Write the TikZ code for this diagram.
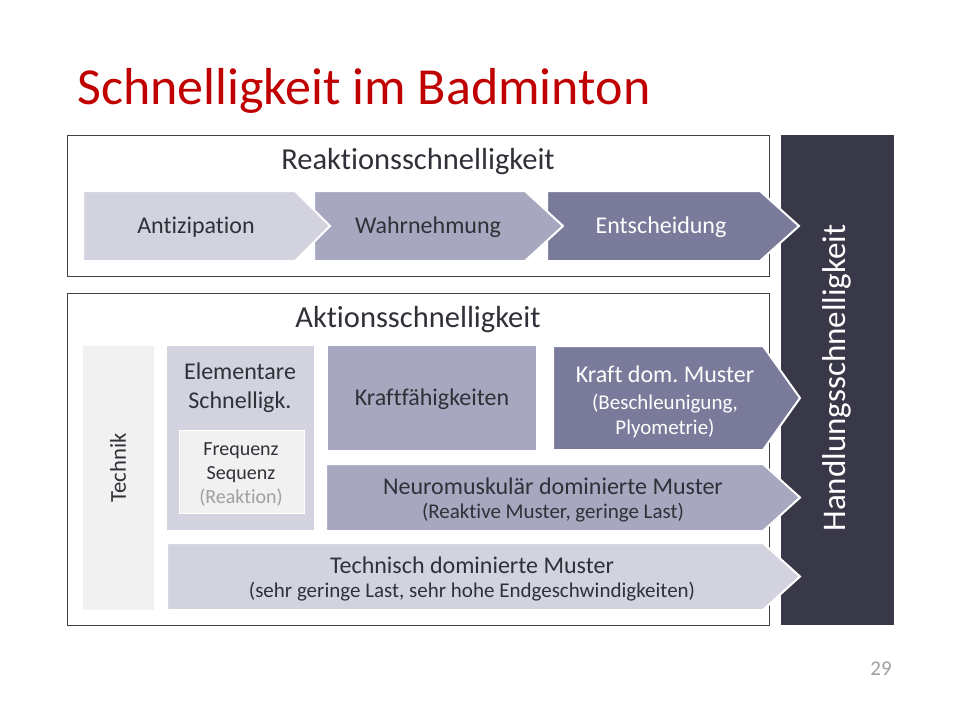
\documentclass[tikz,border=0pt]{standalone}
\usepackage{fontspec}
\setmainfont{Carlito}[Ligatures=NoCommon]
\frenchspacing
\definecolor{titlered}{HTML}{C00000}
\definecolor{ink}{HTML}{303038}
\definecolor{frame}{HTML}{404040}
\definecolor{lilaA}{HTML}{D3D3DF}
\definecolor{lilaB}{HTML}{A7A7BF}
\definecolor{lilaC}{HTML}{7A7A9B}
\definecolor{night}{HTML}{383849}
\definecolor{paper}{HTML}{F1F1F1}
\definecolor{note}{HTML}{A0A0A0}
\newcommand\fsz[1]{\fontsize{#1}{1.2\dimexpr#1pt\relax}\selectfont}
% home-plate arrow: fill, left x, top y, slope start x, bottom y, tip x
\newcommand\homeplate[6]{%
  \filldraw[fill=#1, draw=white, line width=2pt, line join=miter]
    (#2,#3) -- (#4,#3) -- (#6,{(#3+#5)/2}) -- (#4,#5) -- (#2,#5) -- cycle;}
\begin{document}
\begin{tikzpicture}[x=1pt, y=-1pt,
  txt/.style={font=\fsz{24}, text=ink, align=center, inner sep=0pt},
  txtw/.style={txt, text=white},
  small/.style={font=\fsz{21}},
  head/.style={font=\fsz{30.5}, text=ink, inner sep=0pt},
  framebox/.style={draw=frame, line width=0.9pt}]
\useasboundingbox[fill=white] (0,0) rectangle (960,720);

% title
\node[anchor=base west, inner sep=0pt, text=titlered, font=\fsz{52}] (title) at (77,104) {Schnelligkeit im Badminton};

% outer frames
\draw[framebox] (67,135) rectangle (769,276);
\draw[framebox] (67,293) rectangle (769,625);
\node[head] (reak) at (418,162) {Reaktionsschnelligkeit};
\node[head] (akt) at (418,320) {Aktionsschnelligkeit};

% overall bar
\fill[night] (781,135) rectangle (894,625);
\node[rotate=90, font=\fsz{33}, text=white, inner sep=0pt] (hand) at (837,378) {Handlungsschnelligkeit};

% reaction chain (drawn right to left so each tip overlaps the next)
\homeplate{lilaC}{547}{191}{760}{261}{799}
\homeplate{lilaB}{314}{191}{525}{261}{563}
\homeplate{lilaA}{83}{191}{295}{261}{330}
\node[txt] (anti) at (196,227) {Antizipation};
\node[txt] (wahr) at (428,227) {Wahrnehmung};
\node[txtw] (ents) at (661,227) {Entscheidung};

% technique column
\fill[paper] (83,346) rectangle (154,610);
\node[txt, font=\fsz{22.7}, rotate=90] (tech) at (118,468) {Technik};

% elementary speed
\fill[lilaA] (167,346) rectangle (314,530);
\node[txt] (elem) at (240,388) {Elementare\\Schnelligk.};
\filldraw[fill=paper, draw=white, line width=1pt] (179,430) rectangle (304,513);
\node[txt, font=\fsz{20}] (freq) at (241,474) {Frequenz\\Sequenz\\\textcolor{note}{(Reaktion)}};

% strength
\fill[lilaB] (328,346) rectangle (536,450);
\node[txt] (kraft) at (432,399) {Kraftfähigkeiten};

\homeplate{lilaC}{553}{346}{763}{450}{800}
\node[txtw] (kdm) at (665,374) {Kraft dom. Muster};
\node[txtw, small, text depth=0pt] (kdm2) at (665,414) {(Beschleunigung,\\Plyometrie)};

\homeplate{lilaB}{326}{464}{763}{531}{800}
\node[txt] (neuro) at (553,486) {Neuromuskulär dominierte Muster};
\node[txt, small] (neuro2) at (553,513) {(Reaktive Muster, geringe Last)};

\homeplate{lilaA}{167}{543}{763}{610}{800}
\node[txt] (techm) at (472,565) {Technisch dominierte Muster};
\node[txt, small] (techm2) at (472,592) {(sehr geringe Last, sehr hohe Endgeschwindigkeiten)};

% page number
\node[text=note, font=\fsz{21}, inner sep=0pt] (page) at (881,669) {29};
\end{tikzpicture}
\end{document}
